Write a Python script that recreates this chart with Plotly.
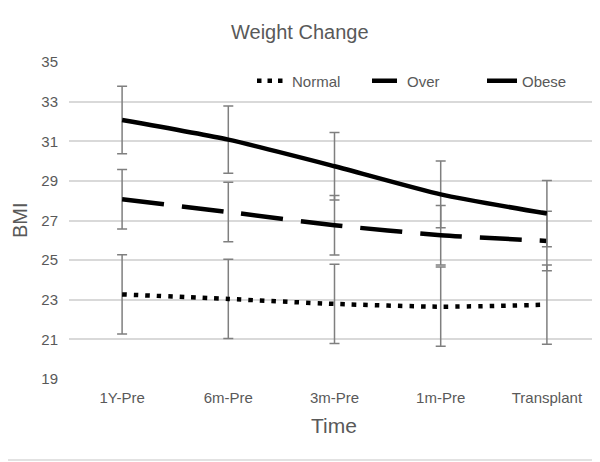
import plotly.graph_objects as go

categories = ["1Y-Pre", "6m-Pre", "3m-Pre", "1m-Pre", "Transplant"]
normal = [23.27, 23.04, 22.79, 22.65, 22.75]
normal_err = [2.0, 2.0, 2.0, 2.0, 2.0]
over = [28.07, 27.43, 26.76, 26.26, 25.97]
over_err = [1.5, 1.5, 1.5, 1.5, 1.5]
obese = [32.07, 31.08, 29.74, 28.32, 27.35]
obese_err = [1.7, 1.7, 1.7, 1.68, 1.67]
y_ticks = [19, 21, 23, 25, 27, 29, 31, 33, 35]

TXT = "#595959"
ERR = "#7f7f7f"
FONT = "Liberation Sans, Arial, sans-serif"

# the page body adds an 8px margin; size the figure so the screen picture is 600x462
OFF = 8
W, H = 600 - OFF, 462 - OFF
L, R, T, B = 69 - OFF, 0, 62 - OFF, 462 - 379
PW, PH = W - L - R, H - T - B

def px_x(p):  # screen pixel -> paper x
    return (p - OFF - L) / PW

def px_y(p):  # screen pixel -> paper y
    return (H - B - (p - OFF)) / PH

fig = go.Figure()

series = [
    ("Normal", normal, normal_err, "4.5px,7px", "4.5px,6px"),
    ("Over", over, over_err, "42px,18px", "25px,9px"),
    ("Obese", obese, obese_err, "solid", "solid"),
]

for name, vals, errs, dash, _ in series:
    fig.add_trace(go.Scatter(
        x=categories, y=vals, name=name, mode="lines", showlegend=False,
        legendgroup=name,
        line=dict(color="black", width=4.5, dash=dash, shape="spline", smoothing=0.6),
        error_y=dict(type="data", array=errs, symmetric=True, color=ERR, thickness=1.5, width=5),
    ))

# legend entries (sample style adapted to the short legend swatch)
for name, vals, errs, _, ldash in series:
    fig.add_trace(go.Scatter(
        x=[None], y=[None], name=name, mode="lines", legendgroup=name,
        line=dict(color="black", width=4.5, dash=ldash),
    ))

fig.update_layout(
    width=W, height=H,
    margin=dict(l=L, r=R, t=T, b=B),
    paper_bgcolor="white", plot_bgcolor="white",
    font=dict(family=FONT, color=TXT, size=15),
    legend=dict(orientation="h", x=px_x(597), xanchor="right", y=px_y(81), yanchor="middle",
                font=dict(size=15, color=TXT), bgcolor="rgba(0,0,0,0)",
                entrywidth=70, entrywidthmode="pixels", tracegroupgap=0),
    showlegend=True,
)
fig.update_xaxes(
    type="category", range=[-0.5, 4.5], showgrid=False, showline=False, zeroline=False,
    ticks="", tickfont=dict(size=15, color=TXT), automargin=False, ticklabelstandoff=8,
)
fig.update_yaxes(
    range=[19, 35], tickvals=y_ticks, showgrid=True, gridcolor="#d9d9d9", gridwidth=1.5,
    zeroline=False, showline=False, ticks="", ticklabelstandoff=10, automargin=False,
    tickfont=dict(size=15, color=TXT),
)

fig.add_annotation(text="Weight Change", xref="paper", yref="paper",
                   x=px_x(300), y=px_y(32), xanchor="center", yanchor="middle",
                   showarrow=False, font=dict(size=20, color=TXT, family=FONT))
fig.add_annotation(text="Time", xref="paper", yref="paper",
                   x=px_x(334), y=px_y(425), xanchor="center", yanchor="middle",
                   showarrow=False, font=dict(size=21, color=TXT, family=FONT))
fig.add_annotation(text="BMI", xref="paper", yref="paper", textangle=-90,
                   x=px_x(20), y=px_y(220), xanchor="center", yanchor="middle",
                   showarrow=False, font=dict(size=20, color=TXT, family=FONT))

# outer chart border (right and bottom edges fall inside the figure)
fig.add_shape(type="rect", xref="paper", yref="paper",
              x0=px_x(1), x1=px_x(598), y0=px_y(460), y1=px_y(1),
              line=dict(color="#d9d9d9", width=1.5), fillcolor="rgba(0,0,0,0)", layer="below")

fig.write_html("out.html")
